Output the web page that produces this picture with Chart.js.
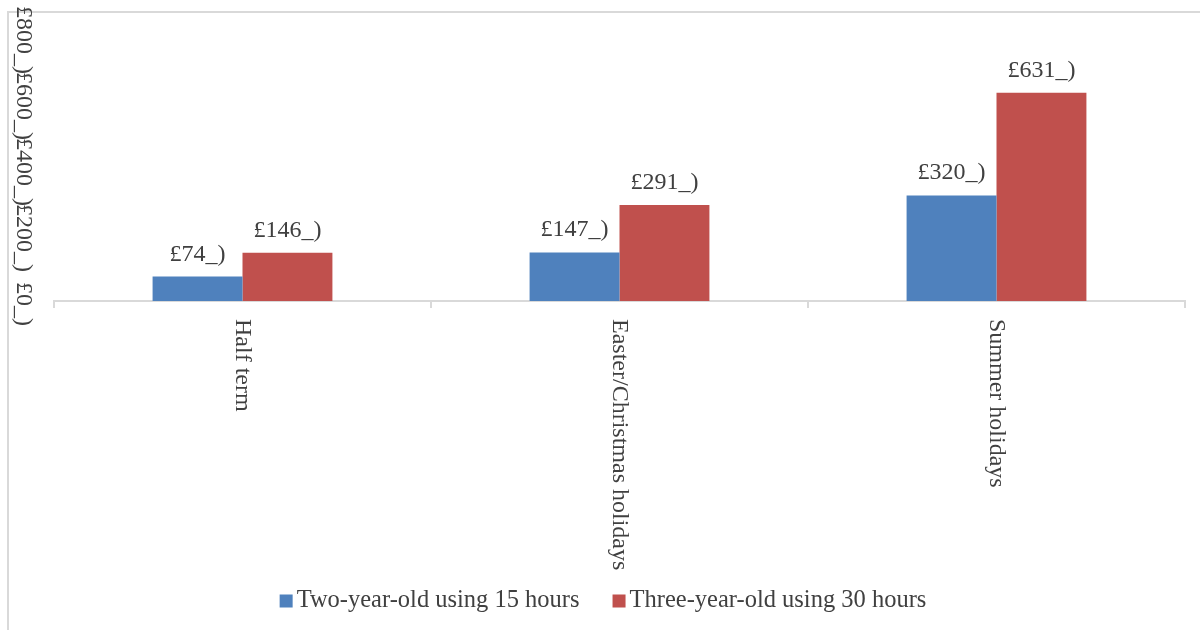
<!DOCTYPE html>
<html>
<head>
<meta charset="utf-8">
<script src="https://cdn.jsdelivr.net/npm/chart.js@4.4.0/dist/chart.umd.min.js"></script>
<style>
  html, body { margin: 0; padding: 0; background: #fff; overflow: hidden; }
  #wrap { position: relative; width: 1200px; height: 630px; }
  #frame { position: absolute; left: 7px; top: 11px; width: 1400px; height: 800px;
           border-left: 2px solid #d9d9d9; border-top: 2px solid #d9d9d9; }
  canvas { position: absolute; left: 0; top: 0; }
</style>
</head>
<body>
<div id="wrap">
  <div id="frame"></div>
  <canvas id="c" width="1200" height="630"></canvas>
</div>
<script>
// Holiday childcare cost by period
const categories = ['Half term', 'Easter/Christmas holidays', 'Summer holidays'];
const seriesNames = ['Two-year-old using 15 hours', 'Three-year-old using 30 hours'];
const twoYearOld = [74, 147, 320];
const threeYearOld = [146, 291, 631];
const yTicks = [0, 200, 400, 600, 800];
const seriesColors = ['#4F81BD', '#C0504D'];

const FONT = '"Liberation Serif", "Times New Roman", serif';
const TEXT = '#404040';
const fmt = v => '£' + v + '_)';

// Rotated axis labels, value labels and the legend row
const decorations = {
  id: 'decorations',
  afterDatasetsDraw(chart) {
    const ctx = chart.ctx;
    ctx.save();
    ctx.font = '24px ' + FONT;
    ctx.fillStyle = TEXT;
    ctx.textAlign = 'center';
    ctx.textBaseline = 'alphabetic';
    chart.data.datasets.forEach((ds, di) => {
      const meta = chart.getDatasetMeta(di);
      meta.data.forEach((bar, i) => {
        ctx.fillText(fmt(ds.data[i]), bar.x, bar.y - 16);
      });
    });
    ctx.restore();
  },
  afterDraw(chart) {
    const ctx = chart.ctx;
    const xs = chart.scales.x, ys = chart.scales.y;
    ctx.save();
    ctx.font = '24px ' + FONT;
    ctx.fillStyle = TEXT;

    // value axis labels, turned to read downwards
    yTicks.forEach(v => {
      ctx.save();
      ctx.translate(23, ys.getPixelForValue(v) + 3);
      ctx.rotate(Math.PI / 2);
      ctx.textAlign = 'center';
      ctx.textBaseline = 'middle';
      ctx.fillText(fmt(v), 0, 0);
      ctx.restore();
    });

    // category labels below the baseline
    categories.forEach((c, i) => {
      ctx.save();
      ctx.translate(xs.getPixelForValue(i), xs.top + 18);
      ctx.rotate(Math.PI / 2);
      ctx.textAlign = 'left';
      ctx.textBaseline = 'middle';
      ctx.fillText(c, 0, 0);
      ctx.restore();
    });

    // legend
    ctx.font = '24.5px ' + FONT;
    const box = 13, gap = 4, spacing = 33;
    const w0 = ctx.measureText(seriesNames[0]).width;
    const w1 = ctx.measureText(seriesNames[1]).width;
    const total = box + gap + w0 + spacing + box + gap + w1;
    let x = 603 - total / 2;
    const cy = 601;
    ctx.textAlign = 'left';
    ctx.textBaseline = 'middle';
    seriesNames.forEach((name, i) => {
      ctx.fillStyle = seriesColors[i];
      ctx.fillRect(x, cy - box / 2, box, box);
      x += box + gap;
      ctx.fillStyle = TEXT;
      ctx.fillText(name, x, cy);
      x += (i === 0 ? w0 : w1) + spacing;
    });
    ctx.restore();
  }
};

new Chart(document.getElementById('c'), {
  type: 'bar',
  data: {
    labels: categories,
    datasets: [
      { label: seriesNames[0], data: twoYearOld, backgroundColor: seriesColors[0] },
      { label: seriesNames[1], data: threeYearOld, backgroundColor: seriesColors[1] }
    ]
  },
  options: {
    responsive: false,
    animation: false,
    devicePixelRatio: 1,
    layout: { padding: { top: 37, right: 15, left: 0, bottom: 0 } },
    datasets: { bar: { barPercentage: 1, categoryPercentage: 0.477 } },
    plugins: { legend: { display: false }, tooltip: { enabled: false } },
    scales: {
      x: {
        offset: true,
        grid: { offset: true, drawOnChartArea: false, drawTicks: true, tickLength: 7,
                color: '#d9d9d9', lineWidth: 2 },
        border: { display: true, color: '#d9d9d9', width: 2 },
        ticks: { display: false },
        afterFit: s => { s.height = 329; }
      },
      y: {
        min: 0, max: 800,
        ticks: { display: false, stepSize: 200 },
        grid: { display: false },
        border: { display: false },
        afterFit: s => { s.width = 54; }
      }
    }
  },
  plugins: [decorations]
});
</script>
</body>
</html>
